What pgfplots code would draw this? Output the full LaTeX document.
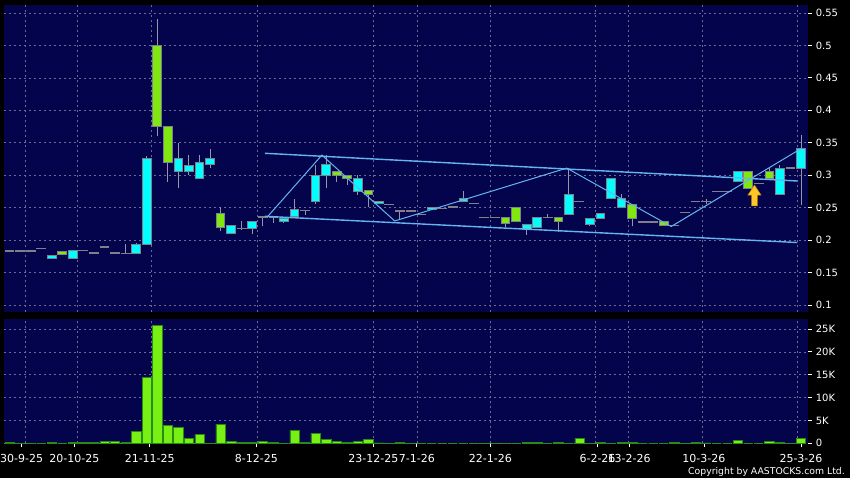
\documentclass[border=0pt]{standalone}
\usepackage{pgfplots}
\pgfplotsset{compat=1.18}
\usepackage{pgfplotstable}
\usepackage{fontspec}
\setmainfont{DejaVu Sans}
\definecolor{navy}{RGB}{4,4,76}
\definecolor{gridc}{RGB}{105,105,150}
\definecolor{cyanc}{RGB}{0,255,255}
\definecolor{greenc}{RGB}{128,232,16}
\definecolor{boxb}{RGB}{128,128,140}
\definecolor{wick}{RGB}{150,150,165}
\definecolor{trend}{RGB}{100,180,240}
\definecolor{volf}{RGB}{120,240,20}
\definecolor{vold}{RGB}{40,140,20}
\definecolor{arrowf}{RGB}{255,200,40}
\definecolor{arrowd}{RGB}{200,130,0}

\pgfdeclareplotmark{nothing}{}

\pgfplotstableread{
i O H L C V
0 0.183 0.183 0.183 0.183 0.15
1 0.183 0.183 0.183 0.183 0
2 0.183 0.183 0.183 0.183 0
3 0.187 0.187 0.187 0.187 0
4 0.172 0.177 0.172 0.177 0.2
5 0.182 0.182 0.178 0.178 0
6 0.172 0.184 0.172 0.184 0.15
7 0.184 0.184 0.184 0.184 0.15
8 0.180 0.180 0.180 0.180 0.15
9 0.189 0.191 0.189 0.191 0.45
10 0.180 0.181 0.180 0.180 0.45
11 0.179 0.194 0.179 0.179 0.15
12 0.180 0.196 0.180 0.194 2.56
13 0.194 0.330 0.194 0.326 14.4
14 0.500 0.540 0.360 0.375 25.8
15 0.375 0.375 0.290 0.320 4.0
16 0.306 0.350 0.280 0.326 3.5
17 0.306 0.331 0.300 0.315 1.1
18 0.295 0.331 0.295 0.320 1.9
19 0.316 0.341 0.311 0.326 0
20 0.241 0.251 0.214 0.220 4.2
21 0.211 0.222 0.209 0.222 0.37
22 0.218 0.229 0.215 0.218 0.15
23 0.218 0.228 0.209 0.228 0.15
24 0.237 0.237 0.221 0.235 0.45
25 0.237 0.237 0.227 0.235 0.15
26 0.228 0.234 0.226 0.234 0
27 0.236 0.264 0.236 0.247 2.85
28 0.246 0.246 0.239 0.246 0.15
29 0.259 0.316 0.255 0.300 2.2
30 0.300 0.331 0.280 0.316 0.9
31 0.306 0.306 0.290 0.300 0.37
32 0.299 0.299 0.285 0.295 0.2
33 0.275 0.300 0.270 0.295 0.45
34 0.276 0.276 0.251 0.271 0.9
35 0.256 0.259 0.256 0.259 0.1
36 0.255 0.255 0.255 0.255 0
37 0.245 0.245 0.231 0.245 0.2
38 0.245 0.245 0.245 0.245 0
39 0.240 0.240 0.240 0.240 0
40 0.247 0.250 0.247 0.250 0
41 0.249 0.249 0.249 0.249 0
42 0.251 0.251 0.251 0.251 0
43 0.260 0.276 0.260 0.264 0
44 0.256 0.256 0.256 0.256 0
45 0.235 0.235 0.235 0.235 0
46 0.235 0.235 0.235 0.235 0
47 0.235 0.235 0.220 0.226 0
48 0.250 0.250 0.228 0.228 0
49 0.216 0.224 0.208 0.224 0.2
50 0.219 0.235 0.219 0.235 0.2
51 0.235 0.240 0.235 0.235 0
52 0.235 0.235 0.212 0.228 0.15
53 0.240 0.311 0.240 0.271 0
54 0.260 0.260 0.260 0.260 1.1
55 0.224 0.234 0.221 0.234 0
56 0.234 0.241 0.234 0.241 0.15
57 0.264 0.295 0.264 0.295 0
58 0.251 0.271 0.251 0.264 0.15
59 0.255 0.255 0.221 0.234 0.15
60 0.228 0.228 0.228 0.228 0
61 0.228 0.228 0.228 0.228 0
62 0.228 0.228 0.223 0.223 0
63 0.222 0.222 0.222 0.222 0.15
64 0.243 0.243 0.243 0.243 0
65 0.260 0.260 0.260 0.260 0.15
66 0.260 0.264 0.256 0.260 0.1
67 0.275 0.275 0.275 0.275 0
68 0.275 0.275 0.275 0.275 0
69 0.290 0.306 0.290 0.306 0.65
70 0.306 0.306 0.280 0.280 0
71 0.287 0.287 0.287 0.287 0
72 0.306 0.311 0.295 0.295 0.37
73 0.271 0.316 0.271 0.311 0.2
74 0.311 0.311 0.311 0.311 0
75 0.311 0.362 0.254 0.341 1.1
}\candles

\pgfplotsset{
  candle/.style={
    scatter, only marks, mark=nothing,
    visualization depends on={\thisrow{C}-\thisrow{O} \as \dc},
    visualization depends on={\thisrow{H}-\thisrow{O} \as \dh},
    visualization depends on={\thisrow{L}-\thisrow{O} \as \dl},
    scatter/@pre marker code/.code={%
      \pgfkeys{/pgf/fpu/output format=fixed}%
      \pgfmathsetmacro\hh{\dc}%
      \pgfmathsetmacro\wh{\dh}%
      \pgfmathsetmacro\wl{\dl}%
      \draw[wick, line width=1pt] (axis direction cs:0,\wl) -- (axis direction cs:0,\wh);
      \ifdim\hh pt>0.0001pt
        \filldraw[fill=cyanc, draw=boxb, line width=0.9pt] (axis direction cs:-0.41,0) rectangle (axis direction cs:0.41,\hh);
      \else
        \ifdim\hh pt<-0.0001pt
          \filldraw[fill=greenc, draw=boxb, line width=0.9pt] (axis direction cs:-0.41,0) rectangle (axis direction cs:0.41,\hh);
        \else
          \draw[boxb, line width=1.3pt] (axis direction cs:-0.47,0) -- (axis direction cs:0.47,0);
        \fi
      \fi
    },
    scatter/@post marker code/.code={},
  },
}

\begin{document}
\begin{tikzpicture}[x=1pt,y=1pt]
\fill[black] (0,0) rectangle (850,-478);

\begin{axis}[at={(4pt,-5pt)}, anchor=north west, scale only axis,
  width=804.3pt, height=306.7pt,
  xmin=-0.521, xmax=75.69, ymin=0.08968, ymax=0.56233,
  clip marker paths=true,
  axis background/.style={fill=navy},
  axis line style={draw=none},
  xtick={1.469,6.445,13.479,23.526,34.483,38.597,45.592,55.526,58.654,65.611,74.607},
  xticklabel=\empty, xtick style={draw=none},
  ytick={0.1,0.15,0.2,0.25,0.3,0.35,0.4,0.45,0.5,0.55},
  yticklabels={0.1,0.15,0.2,0.25,0.3,0.35,0.4,0.45,0.5,0.55},
  ytick pos=right, yticklabel pos=right,
  tick align=outside, major tick length=4pt,
  ytick style={draw=white, line width=0.8pt},
  yticklabel style={font=\fontsize{10}{12}\selectfont, text=white},
  grid=major,
  major grid style={gridc, dash pattern=on 2pt off 3pt, line width=0.6pt},
]
% candles (wick and body drawn from the O H L C columns)
\addplot[candle] table[x=i, y=O] {\candles};
% trend lines
\addplot[trend, line width=1.4pt, mark=none] coordinates {(24.2,0.3338) (74.65,0.2911)};
\addplot[trend, line width=1.4pt, mark=none] coordinates {(24.2,0.2367) (74.65,0.1963)};
\addplot[trend, line width=1pt, mark=none] coordinates {(24.5,0.237) (29.6,0.331) (36.5,0.2295) (52.8,0.311) (62.7,0.221) (75.0,0.341)};
% arrow
\addplot[fill=arrowf, draw=arrowd, line width=0.5pt] coordinates {(70.59,0.2849) (71.21,0.2695) (70.87,0.2695) (70.87,0.2526) (70.31,0.2526) (70.31,0.2695) (69.97,0.2695)} -- cycle;
\end{axis}

\begin{axis}[at={(4pt,-319pt)}, anchor=north west, scale only axis,
  width=804.3pt, height=124.3pt,
  xmin=-0.521, xmax=75.69, ymin=0, ymax=27.19,
  axis background/.style={fill=navy},
  axis line style={draw=none},
  xtick={1.156,6.142,13.289,23.393,34.483,38.597,45.573,55.716,58.72,65.801,74.995},
  xticklabels={30-9-25,20-10-25,21-11-25,8-12-25,23-12-25,7-1-26,22-1-26,6-2-26,13-2-26,10-3-26,25-3-26},
  xtick pos=left,
  xticklabel style={font=\fontsize{11}{12}\selectfont, text=white, yshift=-3pt},
  extra x ticks={1.469,6.445,13.479,23.526,34.483,38.597,45.592,55.526,58.654,65.611,74.607},
  extra x tick labels={},
  extra x tick style={grid=major, major tick length=0pt},
  ytick={0,5,10,15,20,25},
  yticklabels={0,5K,10K,15K,20K,25K},
  ytick pos=right, yticklabel pos=right,
  tick align=outside, major tick length=4pt,
  tick style={draw=white, line width=0.8pt},
  yticklabel style={font=\fontsize{10}{12}\selectfont, text=white},
  xmajorgrids=false, ymajorgrids=true,
  major grid style={gridc, dash pattern=on 2pt off 3pt, line width=0.6pt},
]
\addplot[ybar, bar width=9.3pt, bar shift=0pt, fill=volf, draw=vold, line width=0.5pt] table[x=i, y=V] {\candles};
\end{axis}

\node[anchor=east, text=white, font=\fontsize{9.3}{10}\selectfont, inner sep=0pt] at (845,-471.5) {Copyright by AASTOCKS.com Ltd.};
\pgfresetboundingbox
\useasboundingbox (0,0) rectangle (850,-478);
\end{tikzpicture}
\end{document}
